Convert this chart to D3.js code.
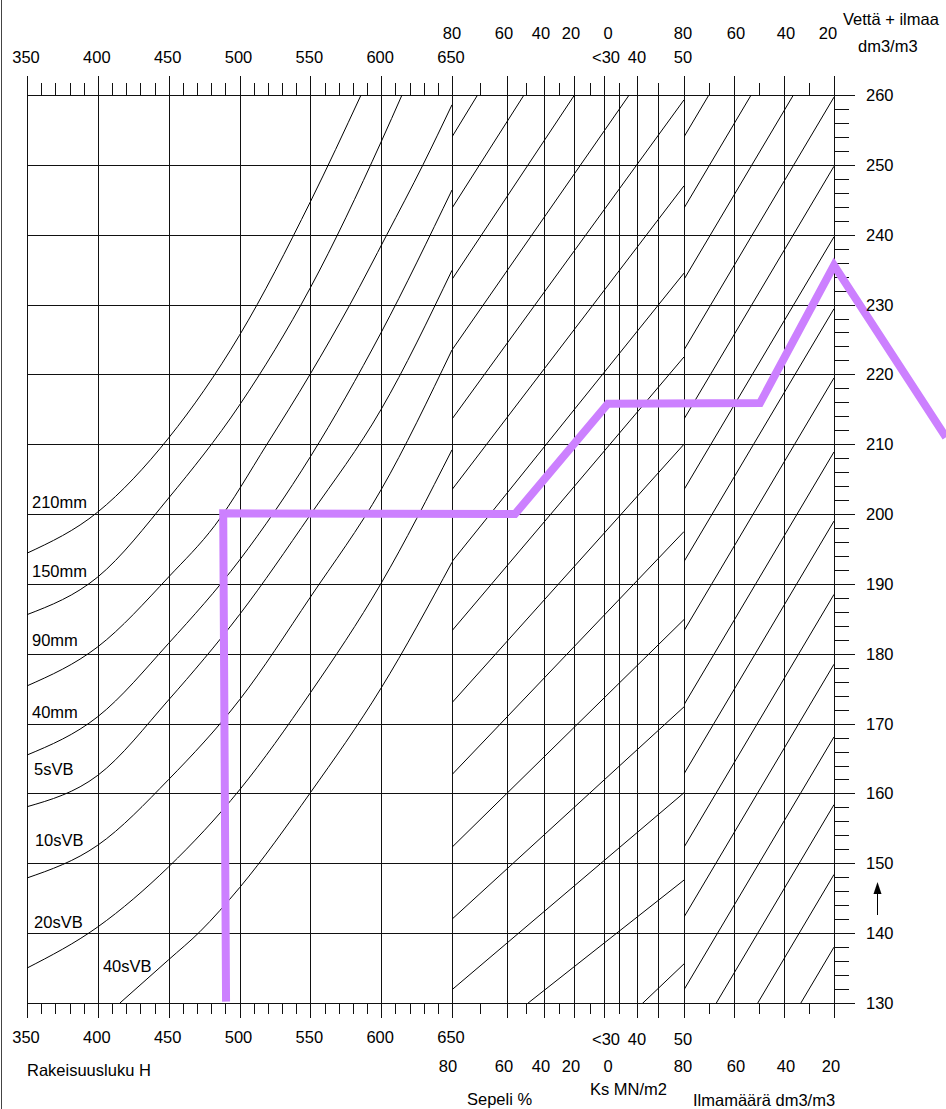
<!DOCTYPE html>
<html><head><meta charset="utf-8">
<script src="https://cdn.jsdelivr.net/npm/d3@7"></script>
<style>
body{margin:0;background:#fff}
svg{display:block}
text{font-family:"Liberation Sans",Arial,sans-serif;font-size:16.5px;fill:#000}
</style>
</head><body>
<svg id="c" width="946" height="1109"></svg>
<script>
// ---------- data ----------
const waterTicks = [130,140,150,160,170,180,190,200,210,220,230,240,250,260];
const waterMinor = [132,134,136,138,142,144,146,148,152,154,156,158,162,164,166,168,172,174,176,178,182,184,186,188,192,194,196,198,202,204,206,208,212,214,216,218,222,224,226,228,232,234,236,238,242,244,246,248,252,254,256,258];
const hMajor = [350,400,450,500,550,600,650];
const hMinor = [360,370,380,390,410,420,430,440,460,470,480,490,510,520,530,540,560,570,580,590,610,620,630,640];
const sepeliMajor = [80,60,40,20,0];
const sepeliMinor = [70,50,30,10];
const ksMajor = [30,40,50];
const ksMajorLabels = ["<30","40","50"];
const ksMinor = [35,45];
const airMajor = [80,60,40,20];
const airMinor = [70,50,30];

const consistencyNames = ["210mm","150mm","90mm","40mm","5sVB","10sVB","20sVB","40sVB"];
const curve210mm = [[350,194.4],[400,200.3],[450,210.9],[500,225.6],[550,244.7],[585.8,260]];
const curve150mm = [[350,185.6],[400,191.0],[450,202.3],[500,215.6],[550,232.4],[600,253.3],[614.7,260]];
const curve90mm  = [[350,175.4],[400,181.0],[450,191.0],[482.7,198.4],[519.4,210],[549.8,220],[578,230],[604,240],[629.5,250],[650,258.6]];
const curve40mm  = [[350,165.5],[400,171.0],[450,181.5],[500,193.4],[550,208.2],[600,226.0],[650,246.4]];
const curve5sVB  = [[350,158.1],[400,162.6],[450,173.4],[500,185.6],[550,199.9],[600,215.0],[650,234.9]];
const curve10sVB = [[350,147.9],[400,152.6],[450,162.0],[500,173.4],[550,188.1],[600,203.5],[650,223.5]];
const curve20sVB = [[350,135.0],[400,140.9],[450,149.5],[500,160.5],[550,174.4],[600,190.1],[650,209.2]];
const curve40sVB = [[415.6,130],[450,136.2],[472,140.2],[500,146.5],[550,160.1],[600,175.1],[650,193.1]];
const consistencyCurves = [curve210mm,curve150mm,curve90mm,curve40mm,curve5sVB,curve10sVB,curve20sVB,curve40sVB];

// water at Sepeli 80 % (start) and at Ks 50 (end)
const sepeliStartW = [254.0,243.8,233.6,223.5,213.6,203.5,193.2,183.3,173.0,162.7,152.3,142.0,131.9,121.4,104.0];
const sepeliEndW   = [308.4,296.0,283.6,271.3,259.3,247.0,234.5,222.5,210.0,197.5,184.9,172.4,160.1,147.6,135.6];
// water at air 80 (start) and air 20 (end)
const airStartW = [254.0,243.8,233.6,223.5,213.6,203.5,193.2,183.3,172.7,162.8,152.3,142.3,131.9,122.2,112.2,101.8];
const airEndW   = [290.2,280.0,269.8,259.7,249.8,239.7,229.4,219.5,208.9,199.0,188.5,178.5,168.1,158.4,148.4,138.0];

// example reading path
const pathScales = ["H","H","sepeli","ks","air","air","air"];
const pathValues = [490.5,488.5,55.8,31.3,49.6,20,-24.8];
const pathWater  = [130.2,200.1,200.0,215.8,215.9,235.6,211.0];

// ---------- scales ----------
const svg = d3.select("#c");
const yW = d3.scaleLinear().domain([130,260]).range([1003,95]);
const xH = d3.scaleLinear().domain([350,650]).range([27,452]);
const xSep = d3.scaleLinear().domain([80,70,60,50,40,30,20,10,0]).range([452,480,507,526,544,559,574,590,604]);
const xKs = d3.scaleLinear().domain([30,35,40,45,50]).range([604,619,637,658,684]);
const xAir = d3.scaleLinear().domain([80,20]).range([684,834]);
const scaleOf = {H:xH, sepeli:xSep, ks:xKs, air:xAir};

const yTop = yW(260), yBot = yW(130), xLeft = xH(350), xRight = xAir(20);
const r = v => Math.round(v) + 0.5;

const defs = svg.append("defs");
function clip(id, x0, x1){
  defs.append("clipPath").attr("id", id).append("rect")
    .attr("x", x0).attr("y", yTop).attr("width", x1 - x0).attr("height", yBot - yTop);
}
clip("cl", xLeft, xH(650));
clip("cs", xSep(80), xKs(50));
clip("ca", xAir(80), xRight);

// left border
svg.append("line").attr("x1",1.5).attr("x2",1.5).attr("y1",0).attr("y2",1109)
  .attr("stroke","#444").attr("stroke-width",1);

const grid = svg.append("g").attr("stroke","#111").attr("stroke-width",1).attr("fill","none");

// horizontal grid lines (extend as major ticks on right)
waterTicks.forEach(v=>{
  grid.append("line").attr("x1",xLeft).attr("x2",xRight+21)
    .attr("y1",r(yW(v))).attr("y2",r(yW(v)));
});
waterMinor.forEach(v=>{
  grid.append("line").attr("x1",xRight).attr("x2",xRight+15)
    .attr("y1",r(yW(v))).attr("y2",r(yW(v)));
});

// vertical grid lines
const vx = [];
hMajor.forEach(v=>vx.push(xH(v)));
[60,40,20,0].forEach(v=>vx.push(xSep(v)));
[35,40,45].forEach(v=>vx.push(xKs(v)));
airMajor.forEach(v=>vx.push(xAir(v)));
vx.forEach(x=>{
  grid.append("line").attr("x1",r(x)).attr("x2",r(x)).attr("y1",yTop).attr("y2",yBot);
});
// right axis extension
grid.append("line").attr("x1",r(xRight)).attr("x2",r(xRight)).attr("y1",yTop-19).attr("y2",yBot+15);

// ticks top & bottom
function ticks(xs, lenTop, lenBot){
  xs.forEach(x=>{
    if(lenTop) grid.append("line").attr("x1",r(x)).attr("x2",r(x)).attr("y1",yTop).attr("y2",yTop-lenTop);
    if(lenBot) grid.append("line").attr("x1",r(x)).attr("x2",r(x)).attr("y1",yBot).attr("y2",yBot+lenBot);
  });
}
ticks(hMajor.map(xH), 19, 15);
ticks(hMinor.map(xH), 12, 11);
ticks(sepeliMajor.filter(v=>v!==80).map(xSep), 19, 15);
ticks(sepeliMinor.map(xSep), 12, 11);
ticks([xKs(40)], 19, 15);
ticks([xKs(35)], 12, 11);
ticks([xKs(45)], 12, 15);
ticks(airMajor.map(xAir), 19, 15);
ticks(airMinor.map(xAir), 12, 11);

// consistency curves
const line = d3.line().curve(d3.curveMonotoneX);
const gc = svg.append("g").attr("clip-path","url(#cl)").attr("fill","none").attr("stroke","#000").attr("stroke-width",1);
consistencyCurves.forEach(c=>{
  gc.append("path").attr("d", line(c.map(p=>[xH(p[0]), yW(p[1])])));
});

// sepeli / Ks lines
const gs = svg.append("g").attr("clip-path","url(#cs)").attr("stroke","#000").attr("stroke-width",1);
sepeliStartW.forEach((w,i)=>{
  gs.append("line").attr("x1",xSep(80)).attr("y1",yW(w)).attr("x2",xKs(50)).attr("y2",yW(sepeliEndW[i]));
});
// air lines
const ga = svg.append("g").attr("clip-path","url(#ca)").attr("stroke","#000").attr("stroke-width",1);
airStartW.forEach((w,i)=>{
  ga.append("line").attr("x1",xAir(80)).attr("y1",yW(w)).attr("x2",xAir(20)).attr("y2",yW(airEndW[i]));
});

// consistency labels
const labelAt = [[353.5,200.9],[353.5,191.0],[353.5,181.1],[353.5,170.8],[355,162.7],[355.6,152.5],[355,140.7],[403.6,134.4]];
svg.append("g").selectAll("text").data(consistencyNames).join("text")
  .attr("x",(d,i)=>xH(labelAt[i][0])).attr("y",(d,i)=>yW(labelAt[i][1]))
  .attr("stroke","#fff").attr("stroke-width",4).attr("paint-order","stroke")
  .text(d=>d);

// example path
const pathLine = d3.line();
svg.append("path")
  .attr("d", pathLine(pathValues.map((v,i)=>[scaleOf[pathScales[i]](v), yW(pathWater[i])])))
  .attr("fill","none").attr("stroke","#cc80ff").attr("stroke-width",8)
  .attr("stroke-linejoin","miter").attr("stroke-miterlimit",10);

// ---------- labels ----------
const tg = svg.append("g");
function lab(x, y, t, anchor){
  tg.append("text").attr("x",x).attr("y",y).attr("text-anchor",anchor||"middle").text(t);
}
// top row 1
sepeliMajor.forEach(v=>lab(xSep(v)+(v===0?4:(v===80?0:-3)), 39, v));
airMajor.forEach(v=>lab(xAir(v)+(v===20?-6:(v===80?-1:2)), 39, v));
// top row 2
hMajor.forEach(v=>lab(xH(v)-1, 63, v));
ksMajor.forEach((v,i)=>lab(xKs(v)+(i===0?2:(i===2?-1:0)), 63, ksMajorLabels[i]));
// right axis
waterTicks.forEach(v=>lab(866, yW(v)+6, v, "start"));
lab(843, 25, "Vettä + ilmaa", "start");
lab(858, 52, "dm3/m3", "start");
// bottom row 1
hMajor.forEach(v=>lab(xH(v)-1, 1043, v));
ksMajor.forEach((v,i)=>lab(xKs(v)+(i===0?2:(i===2?-1:0)), 1045, ksMajorLabels[i]));
// bottom row 2
sepeliMajor.forEach(v=>lab(xSep(v)+(v===0?4:(v===80?-4:-3)), 1072, v));
airMajor.forEach(v=>lab(xAir(v)+(v===20?-3:(v===80?-1:2)), 1072, v));
lab(27, 1076, "Rakeisuusluku H", "start");
lab(590, 1095, "Ks MN/m2", "start");
lab(467, 1105, "Sepeli %", "start");
lab(693, 1106, "Ilmamäärä dm3/m3", "start");

// arrow
svg.append("line").attr("x1",877.5).attr("x2",877.5).attr("y1",915).attr("y2",892).attr("stroke","#000").attr("stroke-width",1);
svg.append("path").attr("d","M877.5,882 L873.5,894 L881.5,894 Z").attr("fill","#000");
</script>
</body></html>
